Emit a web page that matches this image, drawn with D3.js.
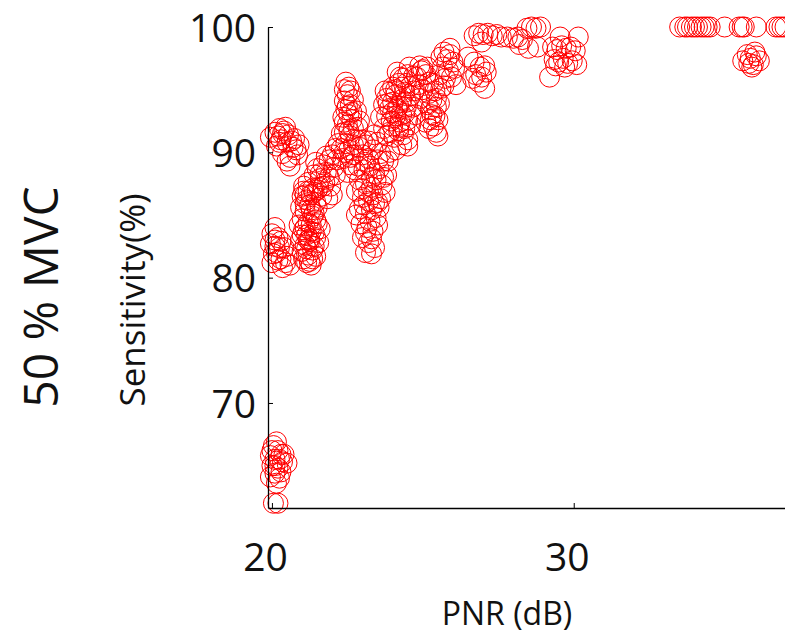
<!DOCTYPE html>
<html>
<head>
<meta charset="utf-8">
<script src="https://cdn.jsdelivr.net/npm/d3@7"></script>
<style>
    body { margin: 0; background: #fff; }
    svg { display: block; }
</style>
</head>
<body>
<svg id="chart" width="785" height="639"></svg>
<script>
// [PNR (dB), Sensitivity (%)], grouped by region
const lowGroup = [[20.05,66.6],[20.15,66.9],[20.2,66.2],[19.95,65.8],[20.1,65.5],[20.3,65.9],[20.0,65.0],
    [20.2,64.8],[20.35,65.3],[20.1,64.4],[19.95,64.1],[20.25,64.0],[20.5,65.2],[20.15,63.6],[20.05,62.0],[20.2,62.0],
    [20.0,66.2],[20.25,65.5],[20.1,65.0],[20.3,64.5],[20.4,65.9]];

const group20 = [[20.0,83.5],[20.1,84.0],[20.2,83.2],[19.95,82.7],[20.1,82.5],[20.3,82.9],[20.05,81.9],[20.2,81.4],
    [20.45,81.2],[20.35,80.8],[20.6,81.0],[20.15,82.0],[20.4,82.4],[20.0,81.2],
    [20.1,83.0],[20.25,82.4],[20.3,81.5],[20.5,81.7],
    [19.95,91.2],[20.1,91.6],[20.25,91.9],[20.4,91.7],[20.55,91.4],[20.3,91.0],[20.15,90.5],[20.5,90.8],
    [20.7,90.4],[20.85,89.8],[20.6,89.6],[20.35,89.9],[20.9,90.6],[20.75,91.1],[20.45,92.0],[20.6,88.9],
    [20.2,91.3],[20.35,91.5],[20.65,90.9],[20.8,90.2],[20.5,89.3],[20.25,90.8]];

const group21 = [[21.05,87.3],[21.2,87.6],[21.35,87.1],[21.0,86.5],[21.15,86.2],[21.3,86.6],[21.45,86.0],[20.95,85.6],
    [21.1,85.3],[21.25,85.8],[21.4,85.1],[21.0,84.7],[21.2,84.4],[21.35,84.9],[21.5,84.3],[21.05,83.8],[21.15,83.4],
    [21.3,83.7],[21.45,83.2],[20.95,83.0],[21.1,82.6],[21.25,82.9],[21.4,82.5],[21.55,82.8],[21.0,82.1],[21.2,81.8],
    [21.35,81.5],[21.15,81.2],[21.3,81.0],[21.45,81.7],[21.1,84.0],[21.25,83.1],[21.4,86.8],[21.5,85.6],[21.6,83.9],
    [20.9,84.2],
    [21.05,86.9],[21.2,86.9],[21.3,85.4],[21.1,85.9],[21.45,84.6],[21.0,83.4],[21.2,83.0],[21.35,82.2],[21.05,81.5],
    [21.25,81.3],[21.15,82.3],[21.4,83.6],[21.3,84.2],[21.1,86.6],[21.5,87.0],
    [21.4,88.2],[21.5,88.7],[21.6,87.9],[21.7,89.0],[21.8,88.4],[21.9,89.4],[22.0,89.8],[22.1,90.3],[21.75,87.6],
    [21.55,87.2],[21.9,88.0],[22.05,88.8],[22.2,90.7],[21.65,86.5],[21.85,86.3],[22.0,86.6],[21.95,87.3],[21.45,89.2],
    [21.6,88.3],[21.7,87.3],[21.8,89.7],[22.15,89.4],[22.1,88.2]];

const group22 = [[22.45,95.6],[22.55,95.2],[22.5,94.6],[22.4,94.1],[22.6,93.8],[22.7,94.2],[22.45,93.4],[22.55,93.0],
    [22.65,92.6],[22.35,92.8],[22.5,92.2],[22.7,91.9],[22.4,91.6],[22.6,91.3],[22.8,91.0],[22.45,90.7],[22.55,90.2],
    [22.7,89.8],[22.35,89.5],[22.6,89.0],[22.8,93.3],[22.9,92.5],[22.3,90.3],[22.75,88.6],[22.5,88.4],
    [22.4,95.0],[22.6,94.9],[22.5,93.7],[22.65,93.2],[22.4,92.4],[22.55,91.7],[22.7,90.6],[22.4,90.0],[22.6,89.6],
    [22.85,92.0],[22.3,91.5]];

const group23 = [[22.9,90.4],[23.0,89.8],[23.1,90.6],[23.2,89.5],[23.35,90.2],[23.5,90.8],[23.6,89.9],[22.85,88.9],
    [23.05,88.6],[23.25,88.9],[23.4,88.3],[23.55,88.7],[23.7,89.3],[22.9,87.8],[23.1,87.5],[23.3,87.2],[23.45,87.8],
    [23.65,87.4],[22.8,86.9],[23.0,86.4],[23.2,86.1],[23.35,86.6],[23.5,86.0],[22.9,85.5],[23.1,85.1],[23.3,85.4],
    [23.45,84.8],[22.95,84.3],[23.15,84.0],[23.35,83.7],[23.0,83.2],[23.2,82.8],[23.4,82.4],[23.1,82.0],[23.3,81.9],
    [23.55,85.6],[23.8,88.2],[23.9,90.0],[23.75,86.8],[22.8,85.0],
    [23.0,91.0],[23.2,90.9],[23.4,91.4],[23.1,89.2],[23.3,88.0],[23.5,89.4],[23.0,87.1],[23.2,86.8],[23.4,85.9],
    [23.05,85.8],[23.25,84.5],[23.1,83.6],[23.3,83.1],[23.5,84.2],[23.6,86.3],[23.7,88.0],[23.85,89.3]];

const group24 = [[23.7,93.8],[23.8,94.3],[23.9,93.5],[24.0,94.0],[24.1,94.6],[24.2,93.7],[24.3,94.2],[24.4,94.8],
    [23.8,92.9],[23.95,92.5],[24.1,92.9],[24.25,92.4],[24.4,93.1],[24.5,92.6],[23.7,91.9],[23.9,91.6],[24.05,91.2],
    [24.2,91.7],[24.35,91.4],[24.5,91.0],[24.0,95.2],[24.2,95.5],[24.35,95.9],[24.5,96.2],[24.15,96.4],[24.6,95.3],
    [24.45,94.0],[24.65,93.6],[24.3,90.6],[24.1,90.2],[23.6,92.8],[23.75,94.9],[24.55,96.8],[24.7,96.1],
    [23.85,93.9],[24.0,93.2],[24.15,93.5],[24.3,93.0],[24.45,93.6],[23.9,94.8],[24.1,95.0],[24.3,95.2],[24.45,95.5],
    [24.6,94.5],[24.0,92.1],[24.2,92.0],[24.4,91.9],[24.6,92.2],[23.8,91.3],[24.25,96.0],[24.7,94.9],[24.5,90.5]];

const group25 = [[24.8,96.0],[24.95,96.5],[25.1,96.2],[24.85,95.4],[25.0,95.0],[25.2,95.6],[25.4,94.9],[25.3,94.2],
    [25.45,93.6],[25.3,93.0],[25.5,92.6],[25.35,92.1],[25.45,91.6],[25.2,91.9],[25.55,93.9],[25.6,95.1],[25.25,93.4],
    [24.9,94.3],[24.75,93.0],[25.1,92.4],
    [25.2,94.7],[25.35,95.5],[25.45,94.3],[25.25,92.6],[25.4,92.9],[25.5,91.3],[25.15,93.8],[25.0,96.6],[24.9,96.9],
    [25.15,96.8],
    [25.6,97.6],[25.7,98.0],[25.8,97.4],[25.9,97.8],[26.0,97.2],[25.65,96.8],[25.85,96.5],[26.05,96.7],[25.75,95.9],
    [25.95,96.0],[25.55,96.2],[26.1,95.4],[25.7,95.3],[25.9,98.3]];

const group27 = [[26.5,97.6],[26.7,97.2],[26.9,96.8],[27.05,96.9],[26.75,96.2],[26.95,96.0],[27.1,96.4],[26.85,95.6],
    [27.05,95.1],[26.65,95.9],
    [26.7,99.3],[26.85,99.5],[27.0,99.4],[27.15,99.5],[27.3,99.3],[27.45,99.4],[27.6,99.2],[27.8,99.2],[28.0,99.1],
    [28.15,99.2],[28.3,99.0],[28.45,99.9],[28.6,100.0],[28.75,99.9],[28.9,100.0],[28.5,98.3],[28.8,98.4],[26.95,98.8],
    [28.2,98.6]];

const group30 = [[29.3,98.4],[29.45,98.2],[29.6,98.5],[29.75,98.3],[29.9,98.4],[30.05,98.1],[29.35,97.4],[29.5,97.2],
    [29.65,97.5],[29.8,97.1],[29.95,97.3],[30.1,97.0],[29.55,99.2],[30.15,99.2],[29.2,96.0],[29.4,96.9],[29.7,96.8]];

const highGroup = [[33.51,100],[33.68,100],[33.77,100],[33.9,100],[34.0,100],[34.1,100],[34.22,100],[34.32,100],
    [34.42,100],[34.52,100],[35.0,100],[35.48,100],[35.58,100],[35.65,100],[36.05,100],[36.7,100],[36.8,100],
    [36.9,100],[37.0,100],
    [35.6,97.3],[35.75,97.8],[35.85,97.5],[35.95,97.0],[36.05,97.7],[36.15,97.3],[35.9,96.8],[36.0,98.0],[35.8,97.1]];

const points = [].concat(lowGroup, group20, group21, group22, group23, group24, group25, group27, group30, highGroup);

const xDomain = [19.87, 37];
const yDomain = [61.62, 100];
const xTicks = [20, 30];
const yTicks = [70, 80, 90, 100];

const opt = {
    width: 785,
    height: 639,
    left: 268,
    right: 785,
    top: 27,
    bottom: 508,
    font: "'Open Sans', 'Noto Sans', sans-serif",
    marker_r: 10,
    marker_color: '#ff0000'
};

const svg = d3.select('#chart');

svg.append('rect')
    .attr('width', opt.width)
    .attr('height', opt.height)
    .attr('fill', '#ffffff');

const xScale = d3.scaleLinear().domain(xDomain).range([opt.left, opt.right]);
const yScale = d3.scaleLinear().domain(yDomain).range([opt.bottom, opt.top]);

// markers
svg.append('g')
    .attr('id', 'markers')
    .selectAll('circle')
    .data(points)
    .join('circle')
    .attr('cx', d => xScale(d[0]))
    .attr('cy', d => yScale(d[1]))
    .attr('r', opt.marker_r)
    .attr('fill', 'none')
    .attr('stroke', opt.marker_color)
    .attr('stroke-width', 1);

// axes, ticks pointing inward
svg.append('g')
    .attr('id', 'x-axis')
    .attr('transform', `translate(0,${opt.bottom})`)
    .call(d3.axisBottom(xScale).tickValues(xTicks).tickSizeInner(-5).tickSizeOuter(0).tickPadding(35));

svg.append('g')
    .attr('id', 'y-axis')
    .attr('transform', `translate(${opt.left},0)`)
    .call(d3.axisLeft(yScale).tickValues(yTicks).tickSizeInner(-5).tickSizeOuter(0).tickPadding(12));

svg.selectAll('#x-axis path, #y-axis path').attr('stroke', '#000').attr('stroke-width', 1.3);
svg.selectAll('#x-axis line, #y-axis line').attr('stroke', '#000');

d3.selectAll('#x-axis text, #y-axis text')
    .style('font-family', opt.font)
    .style('font-size', '39px')
    .attr('fill', '#111');

d3.selectAll('#x-axis text').attr('dx', -7);
d3.selectAll('#y-axis text').attr('dy', '0.36em');

// titles
svg.append('text')
    .attr('x', 507)
    .attr('y', 625)
    .attr('text-anchor', 'middle')
    .style('font-family', opt.font)
    .style('font-size', '32px')
    .attr('fill', '#111')
    .text('PNR (dB)');

svg.append('text')
    .attr('transform', 'translate(145,300) rotate(-90)')
    .attr('text-anchor', 'middle')
    .style('font-family', opt.font)
    .style('font-size', '35px')
    .attr('fill', '#111')
    .text('Sensitivity(%)');

svg.append('text')
    .attr('transform', 'translate(58,297) rotate(-90)')
    .attr('text-anchor', 'middle')
    .style('font-family', opt.font)
    .style('font-size', '48px')
    .attr('fill', '#111')
    .text('50 % MVC');
</script>
</body>
</html>
